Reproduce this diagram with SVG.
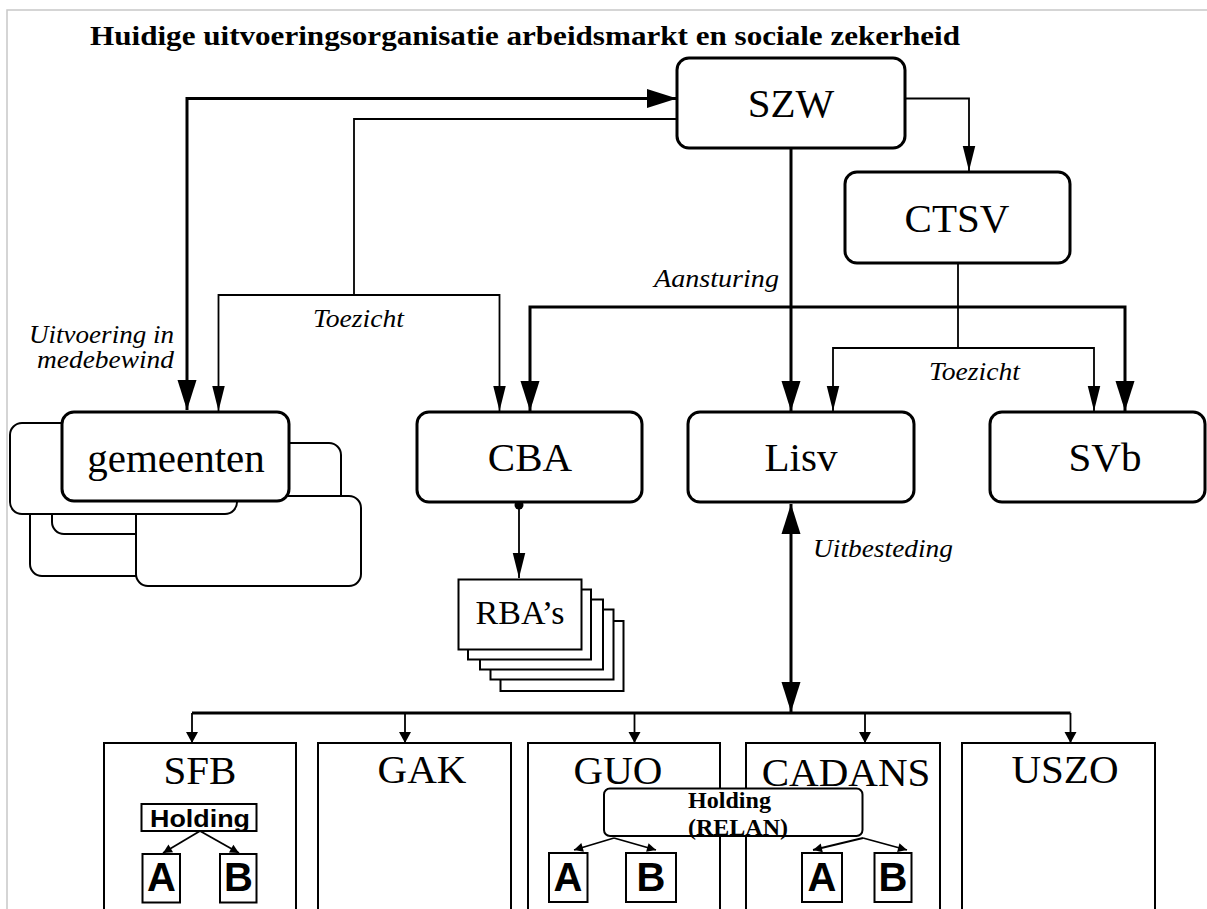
<svg xmlns="http://www.w3.org/2000/svg" width="1207" height="909" viewBox="0 0 1207 909">
<style>
.bg{fill:#fff}
.frame{fill:none;stroke:#c8c8c8;stroke-width:1.5}
.main{fill:#fff;stroke:#000;stroke-width:3}
.sub{fill:#fff;stroke:#000;stroke-width:2}
.co{fill:#fff;stroke:#000;stroke-width:2}
.thick{fill:none;stroke:#000;stroke-width:3}
.thin{fill:none;stroke:#000;stroke-width:1.8}
.lbl{font-family:"Liberation Serif","Times New Roman",serif;font-size:41px;fill:#000;text-anchor:middle}
.it{font-family:"Liberation Serif","Times New Roman",serif;font-style:italic;font-size:25px;fill:#000}
.title{font-family:"Liberation Serif","Times New Roman",serif;font-weight:bold;font-size:28px;fill:#000}
.ab{font-family:"Liberation Sans",Arial,sans-serif;font-weight:bold;font-size:40px;fill:#000;text-anchor:middle}
.hs{font-family:"Liberation Sans",Arial,sans-serif;font-weight:bold;font-size:23px;fill:#000}
.hr{font-family:"Liberation Serif","Times New Roman",serif;font-weight:bold;font-size:23px;fill:#000}
</style>
<defs>
<marker id="big" markerUnits="userSpaceOnUse" markerWidth="32" markerHeight="20" refX="30" refY="9.5" orient="auto-start-reverse" overflow="visible"><path d="M0,0 L30,9.5 L0,19 Z" fill="#000"/></marker>
<marker id="mid" markerUnits="userSpaceOnUse" markerWidth="26" markerHeight="13" refX="25" refY="6.25" orient="auto-start-reverse" overflow="visible"><path d="M0,0 L25,6.25 L0,12.5 Z" fill="#000"/></marker>
<marker id="sm" markerUnits="userSpaceOnUse" markerWidth="12" markerHeight="12" refX="11" refY="6" orient="auto" overflow="visible"><path d="M0,0 L11,6 L0,12 Z" fill="#000"/></marker>
<marker id="tiny" markerUnits="userSpaceOnUse" markerWidth="10" markerHeight="9" refX="9" refY="4.5" orient="auto" overflow="visible"><path d="M0,0 L9,4.5 L0,9 Z" fill="#000"/></marker>
</defs>
<rect class="bg" x="0" y="0" width="1207" height="909"/>
<path class="frame" d="M7,909 V10 H1207"/>
<text class="title" x="90" y="45" textLength="870" lengthAdjust="spacingAndGlyphs">Huidige uitvoeringsorganisatie arbeidsmarkt en sociale zekerheid</text>

<g id="connectors">
<path class="thick" d="M677,98.5 H187 V410" marker-start="url(#big)" marker-end="url(#big)"/>
<path class="thin" d="M677,119 H354 V295"/>
<path class="thin" d="M218.5,411 V295 H499.5 V411" marker-start="url(#mid)" marker-end="url(#mid)"/>
<path class="thin" d="M905,98.5 H969 V171" marker-end="url(#mid)"/>
<path class="thick" d="M791,149 V411" marker-end="url(#big)"/>
<path class="thick" d="M530,411 V307 H1125 V411" marker-start="url(#big)" marker-end="url(#big)"/>
<path class="thin" d="M958,263 V348"/>
<path class="thin" d="M833,411 V348 H1094 V411" marker-start="url(#mid)" marker-end="url(#mid)"/>
<circle cx="519" cy="505" r="4.5" fill="#000"/>
<path class="thin" d="M519,505 V578" marker-end="url(#mid)"/>
<path class="thick" d="M791,504 V712" marker-start="url(#big)" marker-end="url(#big)"/>
<path class="thick" d="M192,713 H1070.5"/>
<path class="thin" d="M192,713 V743" marker-end="url(#sm)"/>
<path class="thin" d="M405,713 V743" marker-end="url(#sm)"/>
<path class="thin" d="M634.5,713 V743" marker-end="url(#sm)"/>
<path class="thin" d="M865,713 V743" marker-end="url(#sm)"/>
<path class="thin" d="M1070.5,713 V743" marker-end="url(#sm)"/>
<text class="it" x="313" y="327" textLength="91" lengthAdjust="spacingAndGlyphs">Toezicht</text>
<text class="it" x="29" y="343" textLength="145" lengthAdjust="spacingAndGlyphs">Uitvoering in</text>
<text class="it" x="37" y="368" textLength="137" lengthAdjust="spacingAndGlyphs">medebewind</text>
<text class="it" x="654" y="287" textLength="125" lengthAdjust="spacingAndGlyphs">Aansturing</text>
<text class="it" x="929" y="380" textLength="91" lengthAdjust="spacingAndGlyphs">Toezicht</text>
<text class="it" x="813" y="557" textLength="140" lengthAdjust="spacingAndGlyphs">Uitbesteding</text>
</g>

<g id="SZW">
<rect class="main" x="677" y="58" width="228" height="90" rx="12"/>
<text class="lbl" x="791" y="117">SZW</text>
</g>
<g id="CTSV">
<rect class="main" x="845" y="172" width="225" height="91" rx="12"/>
<text class="lbl" x="957" y="232">CTSV</text>
</g>
<g id="gemeenten">
<rect class="sub" x="30" y="486" width="226" height="90" rx="12"/>
<rect class="sub" x="115" y="443" width="226" height="90" rx="12"/>
<rect class="sub" x="52" y="444" width="226" height="90" rx="12"/>
<rect class="sub" x="136" y="496" width="225" height="90" rx="12"/>
<rect class="sub" x="10" y="423" width="227" height="91" rx="12"/>
<rect class="main" x="62" y="412" width="227" height="89" rx="12"/>
<text class="lbl" x="176" y="472">gemeenten</text>
</g>
<g id="CBA">
<rect class="main" x="417" y="412" width="225" height="90" rx="12"/>
<text class="lbl" x="530" y="471">CBA</text>
</g>
<g id="Lisv">
<rect class="main" x="688" y="412" width="226" height="90" rx="12"/>
<text class="lbl" x="801" y="471">Lisv</text>
</g>
<g id="SVb">
<rect class="main" x="990" y="412" width="215" height="90" rx="12"/>
<text class="lbl" x="1105" y="471">SVb</text>
</g>
<g id="RBAs">
<rect class="sub" x="500.5" y="621" width="123" height="70"/>
<rect class="sub" x="490.5" y="609.5" width="123" height="70"/>
<rect class="sub" x="480" y="599.5" width="123" height="70"/>
<rect class="sub" x="468" y="589.5" width="123" height="70"/>
<rect class="sub" x="458.5" y="579.5" width="123" height="70"/>
<text class="lbl" x="520" y="624" style="font-size:34px">RBA’s</text>
</g>

<g id="SFB">
<rect class="co" x="104" y="743" width="192" height="200"/>
<text class="lbl" x="200" y="784">SFB</text>
<rect class="co" x="141.5" y="804" width="115" height="27"/>
<text class="hs" x="150" y="827" textLength="100" lengthAdjust="spacingAndGlyphs">Holding</text>
<path class="thin" d="M200,831 L163,853" marker-end="url(#tiny)"/>
<path class="thin" d="M200,831 L239,853" marker-end="url(#tiny)"/>
<rect class="co" x="142.5" y="854" width="37.5" height="48.5"/>
<text class="ab" x="161.5" y="891">A</text>
<rect class="co" x="220" y="854" width="36.5" height="48.5"/>
<text class="ab" x="238.5" y="891">B</text>
</g>
<g id="GAK">
<rect class="co" x="318" y="743" width="193" height="200"/>
<text class="lbl" x="422" y="783">GAK</text>
</g>
<g id="GUO">
<rect class="co" x="528" y="743" width="192" height="200"/>
<text class="lbl" x="618" y="784">GUO</text>
</g>
<g id="CADANS">
<rect class="co" x="746" y="743" width="194" height="200"/>
<text class="lbl" x="846" y="786">CADANS</text>
</g>
<g id="USZO">
<rect class="co" x="962" y="743" width="193" height="200"/>
<text class="lbl" x="1065" y="783">USZO</text>
</g>
<g id="RELAN">
<rect class="co" x="604" y="788.5" width="258.5" height="47.5" rx="6"/>
<text class="hr" x="688" y="808" textLength="83" lengthAdjust="spacingAndGlyphs">Holding</text>
<text class="hr" x="688" y="835" textLength="100" lengthAdjust="spacingAndGlyphs">(RELAN)</text>
<path class="thin" d="M614,838 L574,850" marker-end="url(#tiny)"/>
<path class="thin" d="M614,838 L656,850" marker-end="url(#tiny)"/>
<path class="thin" d="M863,838 L813,850" marker-end="url(#tiny)"/>
<path class="thin" d="M863,838 L907,850" marker-end="url(#tiny)"/>
<rect class="co" x="549" y="853" width="38.5" height="49"/>
<text class="ab" x="568" y="891">A</text>
<rect class="co" x="626" y="853" width="50" height="49"/>
<text class="ab" x="651" y="891">B</text>
<rect class="co" x="802" y="853" width="40" height="49"/>
<text class="ab" x="822" y="891">A</text>
<rect class="co" x="874.5" y="853" width="37" height="49"/>
<text class="ab" x="893" y="891">B</text>
</g>
</svg>
